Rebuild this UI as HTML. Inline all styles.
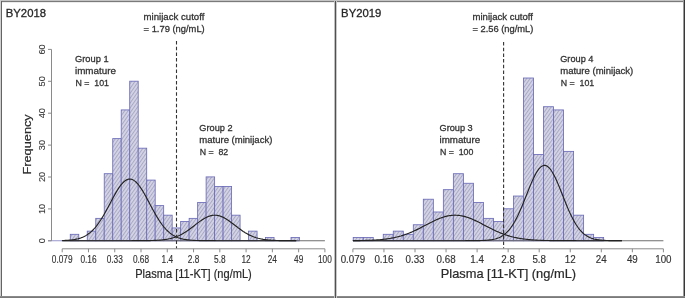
<!DOCTYPE html><html><head><meta charset="utf-8"><style>html,body{margin:0;padding:0;background:#fff}svg{display:block;font-family:"Liberation Sans",sans-serif;filter:blur(0.3px)}</style></head><body><svg width="685" height="298" viewBox="0 0 685 298">
<defs><pattern id="h" patternUnits="userSpaceOnUse" width="2.8" height="2.8" patternTransform="rotate(35)"><rect width="2.8" height="2.8" fill="#d4d4e4"/><rect x="0" y="0" width="1.0" height="2.8" fill="#a8a8c8"/></pattern></defs>
<rect width="685" height="298" fill="#fff"/>
<rect x="70.28" y="234.32" width="8.49" height="6.38" fill="url(#h)" stroke="#6c6cb8" stroke-width="0.85"/>
<rect x="87.26" y="231.13" width="8.49" height="9.57" fill="url(#h)" stroke="#6c6cb8" stroke-width="0.85"/>
<rect x="95.75" y="218.37" width="8.49" height="22.33" fill="url(#h)" stroke="#6c6cb8" stroke-width="0.85"/>
<rect x="104.24" y="173.71" width="8.49" height="66.99" fill="url(#h)" stroke="#6c6cb8" stroke-width="0.85"/>
<rect x="112.73" y="138.62" width="8.49" height="102.08" fill="url(#h)" stroke="#6c6cb8" stroke-width="0.85"/>
<rect x="121.22" y="109.91" width="8.49" height="130.79" fill="url(#h)" stroke="#6c6cb8" stroke-width="0.85"/>
<rect x="129.71" y="81.20" width="8.49" height="159.50" fill="url(#h)" stroke="#6c6cb8" stroke-width="0.85"/>
<rect x="138.20" y="148.19" width="8.49" height="92.51" fill="url(#h)" stroke="#6c6cb8" stroke-width="0.85"/>
<rect x="146.69" y="180.09" width="8.49" height="60.61" fill="url(#h)" stroke="#6c6cb8" stroke-width="0.85"/>
<rect x="155.18" y="205.61" width="8.49" height="35.09" fill="url(#h)" stroke="#6c6cb8" stroke-width="0.85"/>
<rect x="163.67" y="215.18" width="8.49" height="25.52" fill="url(#h)" stroke="#6c6cb8" stroke-width="0.85"/>
<rect x="172.16" y="227.94" width="8.49" height="12.76" fill="url(#h)" stroke="#6c6cb8" stroke-width="0.85"/>
<rect x="180.65" y="221.56" width="8.49" height="19.14" fill="url(#h)" stroke="#6c6cb8" stroke-width="0.85"/>
<rect x="189.14" y="218.37" width="8.49" height="22.33" fill="url(#h)" stroke="#6c6cb8" stroke-width="0.85"/>
<rect x="197.63" y="202.42" width="8.49" height="38.28" fill="url(#h)" stroke="#6c6cb8" stroke-width="0.85"/>
<rect x="206.12" y="176.90" width="8.49" height="63.80" fill="url(#h)" stroke="#6c6cb8" stroke-width="0.85"/>
<rect x="214.61" y="186.47" width="8.49" height="54.23" fill="url(#h)" stroke="#6c6cb8" stroke-width="0.85"/>
<rect x="223.10" y="186.47" width="8.49" height="54.23" fill="url(#h)" stroke="#6c6cb8" stroke-width="0.85"/>
<rect x="231.59" y="215.18" width="8.49" height="25.52" fill="url(#h)" stroke="#6c6cb8" stroke-width="0.85"/>
<rect x="248.57" y="231.13" width="8.49" height="9.57" fill="url(#h)" stroke="#6c6cb8" stroke-width="0.85"/>
<rect x="265.55" y="237.51" width="8.49" height="3.19" fill="url(#h)" stroke="#6c6cb8" stroke-width="0.85"/>
<rect x="291.02" y="237.51" width="8.49" height="3.19" fill="url(#h)" stroke="#6c6cb8" stroke-width="0.85"/>
<line x1="61.79" y1="240.7" x2="299.51" y2="240.7" stroke="#6c6cb8" stroke-width="0.9"/>
<line x1="62.2" y1="240.7" x2="324.9" y2="240.7" stroke="#6e6e6e" stroke-width="1.1"/>
<polyline points="62.2,240.53 63.2,240.50 64.2,240.46 65.2,240.42 66.2,240.36 67.2,240.30 68.2,240.24 69.2,240.16 70.2,240.07 71.2,239.96 72.2,239.84 73.2,239.71 74.2,239.55 75.2,239.38 76.2,239.18 77.2,238.96 78.2,238.71 79.2,238.42 80.2,238.11 81.2,237.76 82.2,237.37 83.2,236.95 84.2,236.47 85.2,235.95 86.2,235.38 87.2,234.75 88.2,234.07 89.2,233.33 90.2,232.53 91.2,231.67 92.2,230.73 93.2,229.73 94.2,228.66 95.2,227.53 96.2,226.32 97.2,225.03 98.2,223.68 99.2,222.26 100.2,220.78 101.2,219.23 102.2,217.61 103.2,215.94 104.2,214.22 105.2,212.45 106.2,210.64 107.2,208.80 108.2,206.93 109.2,205.04 110.2,203.15 111.2,201.25 112.2,199.37 113.2,197.51 114.2,195.68 115.2,193.89 116.2,192.16 117.2,190.49 118.2,188.90 119.2,187.40 120.2,186.00 121.2,184.70 122.2,183.52 123.2,182.46 124.2,181.54 125.2,180.76 126.2,180.12 127.2,179.63 128.2,179.30 129.2,179.13 130.2,179.11 131.2,179.26 132.2,179.56 133.2,180.01 134.2,180.62 135.2,181.37 136.2,182.27 137.2,183.30 138.2,184.45 139.2,185.73 140.2,187.11 141.2,188.60 142.2,190.17 143.2,191.82 144.2,193.54 145.2,195.32 146.2,197.14 147.2,199.00 148.2,200.88 149.2,202.77 150.2,204.66 151.2,206.55 152.2,208.43 153.2,210.28 154.2,212.09 155.2,213.87 156.2,215.60 157.2,217.28 158.2,218.91 159.2,220.47 160.2,221.97 161.2,223.41 162.2,224.77 163.2,226.06 164.2,227.29 165.2,228.44 166.2,229.53 167.2,230.54 168.2,231.48 169.2,232.36 170.2,233.18 171.2,233.93 172.2,234.62 173.2,235.26 174.2,235.84 175.2,236.37 176.2,236.85 177.2,237.29 178.2,237.69 179.2,238.04 180.2,238.36 181.2,238.65 182.2,238.91 183.2,239.14 184.2,239.34 185.2,239.52 186.2,239.68 187.2,239.82 188.2,239.94 189.2,240.05 190.2,240.14 191.2,240.22 192.2,240.29 193.2,240.35 194.2,240.41 195.2,240.45 196.2,240.49 197.2,240.52 198.2,240.55 199.2,240.58 200.2,240.60 201.2,240.61 202.2,240.63 203.2,240.64 204.2,240.65 205.2,240.66 206.2,240.67 207.2,240.67 208.2,240.68 209.2,240.68 210.2,240.69 211.2,240.69 212.2,240.69 213.2,240.69 214.2,240.69 215.2,240.69 216.2,240.70 217.2,240.70 218.2,240.70 219.2,240.70 220.2,240.70 221.2,240.70 222.2,240.70 223.2,240.70 224.2,240.70 225.2,240.70 226.2,240.70 227.2,240.70 228.2,240.70 229.2,240.70 230.2,240.70 231.2,240.70 232.2,240.70 233.2,240.70 234.2,240.70 235.2,240.70 236.2,240.70 237.2,240.70 238.2,240.70 239.2,240.70 240.2,240.70 241.2,240.70 242.2,240.70 243.2,240.70 244.2,240.70 245.2,240.70 246.2,240.70 247.2,240.70 248.2,240.70 249.2,240.70 250.2,240.70 251.2,240.70 252.2,240.70 253.2,240.70 254.2,240.70 255.2,240.70 256.2,240.70 257.2,240.70 258.2,240.70 259.2,240.70 260.2,240.70 261.2,240.70 262.2,240.70 263.2,240.70 264.2,240.70 265.2,240.70 266.2,240.70 267.2,240.70 268.2,240.70 269.2,240.70 270.2,240.70 271.2,240.70 272.2,240.70 273.2,240.70 274.2,240.70 275.2,240.70 276.2,240.70 277.2,240.70 278.2,240.70 279.2,240.70 280.2,240.70 281.2,240.70 282.2,240.70 283.2,240.70 284.2,240.70 285.2,240.70 286.2,240.70 287.2,240.70 288.2,240.70 289.2,240.70 290.2,240.70 291.2,240.70 292.2,240.70 293.2,240.70 294.2,240.70 295.2,240.70 296.2,240.70" fill="none" stroke="#222" stroke-width="1.15"/>
<polyline points="62.2,240.70 63.2,240.70 64.2,240.70 65.2,240.70 66.2,240.70 67.2,240.70 68.2,240.70 69.2,240.70 70.2,240.70 71.2,240.70 72.2,240.70 73.2,240.70 74.2,240.70 75.2,240.70 76.2,240.70 77.2,240.70 78.2,240.70 79.2,240.70 80.2,240.70 81.2,240.70 82.2,240.70 83.2,240.70 84.2,240.70 85.2,240.70 86.2,240.70 87.2,240.70 88.2,240.70 89.2,240.70 90.2,240.70 91.2,240.70 92.2,240.70 93.2,240.70 94.2,240.70 95.2,240.70 96.2,240.70 97.2,240.70 98.2,240.70 99.2,240.70 100.2,240.70 101.2,240.70 102.2,240.70 103.2,240.70 104.2,240.70 105.2,240.70 106.2,240.70 107.2,240.70 108.2,240.70 109.2,240.70 110.2,240.70 111.2,240.70 112.2,240.70 113.2,240.70 114.2,240.70 115.2,240.70 116.2,240.70 117.2,240.70 118.2,240.70 119.2,240.70 120.2,240.70 121.2,240.70 122.2,240.70 123.2,240.70 124.2,240.70 125.2,240.70 126.2,240.70 127.2,240.70 128.2,240.70 129.2,240.70 130.2,240.70 131.2,240.70 132.2,240.69 133.2,240.69 134.2,240.69 135.2,240.69 136.2,240.69 137.2,240.69 138.2,240.68 139.2,240.68 140.2,240.68 141.2,240.67 142.2,240.66 143.2,240.66 144.2,240.65 145.2,240.64 146.2,240.63 147.2,240.62 148.2,240.60 149.2,240.58 150.2,240.56 151.2,240.54 152.2,240.51 153.2,240.48 154.2,240.44 155.2,240.40 156.2,240.35 157.2,240.30 158.2,240.24 159.2,240.17 160.2,240.09 161.2,240.00 162.2,239.90 163.2,239.79 164.2,239.66 165.2,239.52 166.2,239.37 167.2,239.20 168.2,239.01 169.2,238.80 170.2,238.58 171.2,238.33 172.2,238.06 173.2,237.77 174.2,237.45 175.2,237.11 176.2,236.74 177.2,236.34 178.2,235.92 179.2,235.47 180.2,234.99 181.2,234.48 182.2,233.95 183.2,233.38 184.2,232.79 185.2,232.17 186.2,231.53 187.2,230.86 188.2,230.17 189.2,229.46 190.2,228.73 191.2,227.99 192.2,227.23 193.2,226.47 194.2,225.70 195.2,224.92 196.2,224.15 197.2,223.39 198.2,222.63 199.2,221.89 200.2,221.16 201.2,220.46 202.2,219.79 203.2,219.15 204.2,218.54 205.2,217.97 206.2,217.45 207.2,216.98 208.2,216.55 209.2,216.18 210.2,215.87 211.2,215.61 212.2,215.41 213.2,215.28 214.2,215.21 215.2,215.21 216.2,215.26 217.2,215.38 218.2,215.57 219.2,215.81 220.2,216.11 221.2,216.47 222.2,216.89 223.2,217.35 224.2,217.87 225.2,218.42 226.2,219.02 227.2,219.66 228.2,220.33 229.2,221.02 230.2,221.74 231.2,222.48 232.2,223.23 233.2,224.00 234.2,224.77 235.2,225.54 236.2,226.31 237.2,227.08 238.2,227.84 239.2,228.58 240.2,229.32 241.2,230.03 242.2,230.72 243.2,231.40 244.2,232.04 245.2,232.67 246.2,233.26 247.2,233.83 248.2,234.38 249.2,234.89 250.2,235.38 251.2,235.83 252.2,236.26 253.2,236.66 254.2,237.04 255.2,237.38 256.2,237.71 257.2,238.00 258.2,238.28 259.2,238.53 260.2,238.76 261.2,238.97 262.2,239.16 263.2,239.34 264.2,239.49 265.2,239.63 266.2,239.76 267.2,239.88 268.2,239.98 269.2,240.07 270.2,240.15 271.2,240.22 272.2,240.29 273.2,240.34 274.2,240.39 275.2,240.43 276.2,240.47 277.2,240.50 278.2,240.53 279.2,240.56 280.2,240.58 281.2,240.60 282.2,240.61 283.2,240.63 284.2,240.64 285.2,240.65 286.2,240.66 287.2,240.66 288.2,240.67 289.2,240.67 290.2,240.68 291.2,240.68 292.2,240.69 293.2,240.69 294.2,240.69 295.2,240.69 296.2,240.69" fill="none" stroke="#222" stroke-width="1.15"/>
<line x1="176.5" y1="41" x2="176.5" y2="248.6" stroke="#333" stroke-width="1.1" stroke-dasharray="3.5 2.2"/>
<line x1="62.2" y1="248.8" x2="324.9" y2="248.8" stroke="#8a8a8a" stroke-width="1"/>
<line x1="62.20" y1="248.8" x2="62.20" y2="252.3" stroke="#8a8a8a" stroke-width="1"/>
<line x1="88.47" y1="248.8" x2="88.47" y2="252.3" stroke="#8a8a8a" stroke-width="1"/>
<line x1="114.74" y1="248.8" x2="114.74" y2="252.3" stroke="#8a8a8a" stroke-width="1"/>
<line x1="141.01" y1="248.8" x2="141.01" y2="252.3" stroke="#8a8a8a" stroke-width="1"/>
<line x1="167.28" y1="248.8" x2="167.28" y2="252.3" stroke="#8a8a8a" stroke-width="1"/>
<line x1="193.55" y1="248.8" x2="193.55" y2="252.3" stroke="#8a8a8a" stroke-width="1"/>
<line x1="219.82" y1="248.8" x2="219.82" y2="252.3" stroke="#8a8a8a" stroke-width="1"/>
<line x1="246.09" y1="248.8" x2="246.09" y2="252.3" stroke="#8a8a8a" stroke-width="1"/>
<line x1="272.36" y1="248.8" x2="272.36" y2="252.3" stroke="#8a8a8a" stroke-width="1"/>
<line x1="298.63" y1="248.8" x2="298.63" y2="252.3" stroke="#8a8a8a" stroke-width="1"/>
<line x1="324.90" y1="248.8" x2="324.90" y2="252.3" stroke="#8a8a8a" stroke-width="1"/>
<rect x="353.21" y="237.51" width="10.02" height="3.19" fill="url(#h)" stroke="#6c6cb8" stroke-width="0.85"/>
<rect x="363.23" y="237.51" width="10.02" height="3.19" fill="url(#h)" stroke="#6c6cb8" stroke-width="0.85"/>
<rect x="383.26" y="234.32" width="10.02" height="6.38" fill="url(#h)" stroke="#6c6cb8" stroke-width="0.85"/>
<rect x="393.28" y="231.13" width="10.02" height="9.57" fill="url(#h)" stroke="#6c6cb8" stroke-width="0.85"/>
<rect x="403.29" y="234.32" width="10.02" height="6.38" fill="url(#h)" stroke="#6c6cb8" stroke-width="0.85"/>
<rect x="413.31" y="224.75" width="10.02" height="15.95" fill="url(#h)" stroke="#6c6cb8" stroke-width="0.85"/>
<rect x="423.33" y="199.23" width="10.02" height="41.47" fill="url(#h)" stroke="#6c6cb8" stroke-width="0.85"/>
<rect x="433.35" y="211.99" width="10.02" height="28.71" fill="url(#h)" stroke="#6c6cb8" stroke-width="0.85"/>
<rect x="443.36" y="189.66" width="10.02" height="51.04" fill="url(#h)" stroke="#6c6cb8" stroke-width="0.85"/>
<rect x="453.38" y="173.71" width="10.02" height="66.99" fill="url(#h)" stroke="#6c6cb8" stroke-width="0.85"/>
<rect x="463.40" y="183.28" width="10.02" height="57.42" fill="url(#h)" stroke="#6c6cb8" stroke-width="0.85"/>
<rect x="473.41" y="202.42" width="10.02" height="38.28" fill="url(#h)" stroke="#6c6cb8" stroke-width="0.85"/>
<rect x="483.43" y="218.37" width="10.02" height="22.33" fill="url(#h)" stroke="#6c6cb8" stroke-width="0.85"/>
<rect x="493.45" y="221.56" width="10.02" height="19.14" fill="url(#h)" stroke="#6c6cb8" stroke-width="0.85"/>
<rect x="503.46" y="208.80" width="10.02" height="31.90" fill="url(#h)" stroke="#6c6cb8" stroke-width="0.85"/>
<rect x="513.48" y="196.04" width="10.02" height="44.66" fill="url(#h)" stroke="#6c6cb8" stroke-width="0.85"/>
<rect x="523.50" y="78.01" width="10.02" height="162.69" fill="url(#h)" stroke="#6c6cb8" stroke-width="0.85"/>
<rect x="533.52" y="154.57" width="10.02" height="86.13" fill="url(#h)" stroke="#6c6cb8" stroke-width="0.85"/>
<rect x="543.53" y="106.72" width="10.02" height="133.98" fill="url(#h)" stroke="#6c6cb8" stroke-width="0.85"/>
<rect x="553.55" y="109.91" width="10.02" height="130.79" fill="url(#h)" stroke="#6c6cb8" stroke-width="0.85"/>
<rect x="563.57" y="151.38" width="10.02" height="89.32" fill="url(#h)" stroke="#6c6cb8" stroke-width="0.85"/>
<rect x="573.58" y="215.18" width="10.02" height="25.52" fill="url(#h)" stroke="#6c6cb8" stroke-width="0.85"/>
<rect x="583.60" y="234.32" width="10.02" height="6.38" fill="url(#h)" stroke="#6c6cb8" stroke-width="0.85"/>
<rect x="593.62" y="237.51" width="10.02" height="3.19" fill="url(#h)" stroke="#6c6cb8" stroke-width="0.85"/>
<line x1="353.21" y1="240.7" x2="603.63" y2="240.7" stroke="#6c6cb8" stroke-width="0.9"/>
<line x1="352.9" y1="240.7" x2="663.4" y2="240.7" stroke="#6e6e6e" stroke-width="1.1"/>
<polyline points="352.9,240.64 353.9,240.63 354.9,240.62 355.9,240.61 356.9,240.60 357.9,240.59 358.9,240.57 359.9,240.56 360.9,240.54 361.9,240.52 362.9,240.51 363.9,240.48 364.9,240.46 365.9,240.43 366.9,240.40 367.9,240.37 368.9,240.34 369.9,240.30 370.9,240.26 371.9,240.22 372.9,240.17 373.9,240.12 374.9,240.06 375.9,240.00 376.9,239.93 377.9,239.86 378.9,239.78 379.9,239.70 380.9,239.61 381.9,239.52 382.9,239.41 383.9,239.30 384.9,239.19 385.9,239.06 386.9,238.92 387.9,238.78 388.9,238.63 389.9,238.47 390.9,238.29 391.9,238.11 392.9,237.92 393.9,237.71 394.9,237.50 395.9,237.27 396.9,237.03 397.9,236.78 398.9,236.52 399.9,236.24 400.9,235.96 401.9,235.65 402.9,235.34 403.9,235.01 404.9,234.67 405.9,234.32 406.9,233.95 407.9,233.57 408.9,233.18 409.9,232.77 410.9,232.36 411.9,231.93 412.9,231.49 413.9,231.04 414.9,230.58 415.9,230.11 416.9,229.63 417.9,229.14 418.9,228.64 419.9,228.14 420.9,227.63 421.9,227.11 422.9,226.59 423.9,226.07 424.9,225.55 425.9,225.02 426.9,224.50 427.9,223.98 428.9,223.46 429.9,222.94 430.9,222.44 431.9,221.93 432.9,221.44 433.9,220.96 434.9,220.48 435.9,220.02 436.9,219.58 437.9,219.14 438.9,218.73 439.9,218.33 440.9,217.95 441.9,217.59 442.9,217.26 443.9,216.94 444.9,216.65 445.9,216.38 446.9,216.14 447.9,215.93 448.9,215.74 449.9,215.58 450.9,215.45 451.9,215.34 452.9,215.26 453.9,215.22 454.9,215.20 455.9,215.21 456.9,215.25 457.9,215.32 458.9,215.42 459.9,215.55 460.9,215.70 461.9,215.89 462.9,216.10 463.9,216.33 464.9,216.60 465.9,216.88 466.9,217.19 467.9,217.53 468.9,217.88 469.9,218.25 470.9,218.65 471.9,219.06 472.9,219.49 473.9,219.93 474.9,220.39 475.9,220.86 476.9,221.34 477.9,221.83 478.9,222.33 479.9,222.84 480.9,223.36 481.9,223.87 482.9,224.40 483.9,224.92 484.9,225.44 485.9,225.97 486.9,226.49 487.9,227.01 488.9,227.52 489.9,228.03 490.9,228.54 491.9,229.04 492.9,229.53 493.9,230.01 494.9,230.48 495.9,230.95 496.9,231.40 497.9,231.84 498.9,232.27 499.9,232.69 500.9,233.10 501.9,233.49 502.9,233.88 503.9,234.25 504.9,234.60 505.9,234.94 506.9,235.27 507.9,235.59 508.9,235.90 509.9,236.19 510.9,236.47 511.9,236.73 512.9,236.98 513.9,237.23 514.9,237.45 515.9,237.67 516.9,237.88 517.9,238.07 518.9,238.26 519.9,238.43 520.9,238.60 521.9,238.75 522.9,238.90 523.9,239.03 524.9,239.16 525.9,239.28 526.9,239.39 527.9,239.50 528.9,239.59 529.9,239.68 530.9,239.77 531.9,239.85 532.9,239.92 533.9,239.99 534.9,240.05 535.9,240.11 536.9,240.16 537.9,240.21 538.9,240.25 539.9,240.29 540.9,240.33 541.9,240.37 542.9,240.40 543.9,240.43 544.9,240.45 545.9,240.48 546.9,240.50 547.9,240.52 548.9,240.54 549.9,240.56 550.9,240.57 551.9,240.58 552.9,240.60 553.9,240.61 554.9,240.62 555.9,240.63 556.9,240.63 557.9,240.64 558.9,240.65 559.9,240.65 560.9,240.66 561.9,240.66 562.9,240.67 563.9,240.67 564.9,240.68 565.9,240.68 566.9,240.68 567.9,240.68 568.9,240.69 569.9,240.69 570.9,240.69 571.9,240.69 572.9,240.69 573.9,240.69 574.9,240.69 575.9,240.69 576.9,240.70 577.9,240.70 578.9,240.70 579.9,240.70 580.9,240.70 581.9,240.70 582.9,240.70 583.9,240.70 584.9,240.70 585.9,240.70 586.9,240.70 587.9,240.70 588.9,240.70 589.9,240.70 590.9,240.70 591.9,240.70 592.9,240.70 593.9,240.70 594.9,240.70 595.9,240.70 596.9,240.70 597.9,240.70 598.9,240.70 599.9,240.70 600.9,240.70 601.9,240.70 602.9,240.70 603.9,240.70 604.9,240.70 605.9,240.70 606.9,240.70 607.9,240.70 608.9,240.70 609.9,240.70 610.9,240.70 611.9,240.70 612.9,240.70 613.9,240.70 614.9,240.70 615.9,240.70 616.9,240.70 617.9,240.70 618.9,240.70 619.9,240.70 620.9,240.70 621.9,240.70" fill="none" stroke="#222" stroke-width="1.15"/>
<polyline points="352.9,240.70 353.9,240.70 354.9,240.70 355.9,240.70 356.9,240.70 357.9,240.70 358.9,240.70 359.9,240.70 360.9,240.70 361.9,240.70 362.9,240.70 363.9,240.70 364.9,240.70 365.9,240.70 366.9,240.70 367.9,240.70 368.9,240.70 369.9,240.70 370.9,240.70 371.9,240.70 372.9,240.70 373.9,240.70 374.9,240.70 375.9,240.70 376.9,240.70 377.9,240.70 378.9,240.70 379.9,240.70 380.9,240.70 381.9,240.70 382.9,240.70 383.9,240.70 384.9,240.70 385.9,240.70 386.9,240.70 387.9,240.70 388.9,240.70 389.9,240.70 390.9,240.70 391.9,240.70 392.9,240.70 393.9,240.70 394.9,240.70 395.9,240.70 396.9,240.70 397.9,240.70 398.9,240.70 399.9,240.70 400.9,240.70 401.9,240.70 402.9,240.70 403.9,240.70 404.9,240.70 405.9,240.70 406.9,240.70 407.9,240.70 408.9,240.70 409.9,240.70 410.9,240.70 411.9,240.70 412.9,240.70 413.9,240.70 414.9,240.70 415.9,240.70 416.9,240.70 417.9,240.70 418.9,240.70 419.9,240.70 420.9,240.70 421.9,240.70 422.9,240.70 423.9,240.70 424.9,240.70 425.9,240.70 426.9,240.70 427.9,240.70 428.9,240.70 429.9,240.70 430.9,240.70 431.9,240.70 432.9,240.70 433.9,240.70 434.9,240.70 435.9,240.70 436.9,240.70 437.9,240.70 438.9,240.70 439.9,240.70 440.9,240.70 441.9,240.70 442.9,240.70 443.9,240.70 444.9,240.70 445.9,240.70 446.9,240.70 447.9,240.70 448.9,240.70 449.9,240.70 450.9,240.70 451.9,240.70 452.9,240.70 453.9,240.70 454.9,240.70 455.9,240.70 456.9,240.70 457.9,240.70 458.9,240.70 459.9,240.70 460.9,240.70 461.9,240.70 462.9,240.70 463.9,240.70 464.9,240.70 465.9,240.69 466.9,240.69 467.9,240.69 468.9,240.69 469.9,240.69 470.9,240.68 471.9,240.68 472.9,240.67 473.9,240.67 474.9,240.66 475.9,240.65 476.9,240.63 477.9,240.62 478.9,240.60 479.9,240.58 480.9,240.55 481.9,240.52 482.9,240.48 483.9,240.44 484.9,240.39 485.9,240.32 486.9,240.25 487.9,240.16 488.9,240.06 489.9,239.94 490.9,239.81 491.9,239.65 492.9,239.46 493.9,239.25 494.9,239.01 495.9,238.73 496.9,238.42 497.9,238.06 498.9,237.66 499.9,237.20 500.9,236.69 501.9,236.12 502.9,235.49 503.9,234.78 504.9,234.00 505.9,233.15 506.9,232.20 507.9,231.17 508.9,230.05 509.9,228.83 510.9,227.51 511.9,226.09 512.9,224.57 513.9,222.95 514.9,221.22 515.9,219.39 516.9,217.46 517.9,215.43 518.9,213.31 519.9,211.11 520.9,208.82 521.9,206.46 522.9,204.05 523.9,201.58 524.9,199.08 525.9,196.55 526.9,194.01 527.9,191.48 528.9,188.98 529.9,186.51 530.9,184.10 531.9,181.76 532.9,179.52 533.9,177.39 534.9,175.38 535.9,173.52 536.9,171.82 537.9,170.30 538.9,168.96 539.9,167.82 540.9,166.89 541.9,166.18 542.9,165.70 543.9,165.44 544.9,165.42 545.9,165.63 546.9,166.07 547.9,166.73 548.9,167.62 549.9,168.71 550.9,170.01 551.9,171.50 552.9,173.17 553.9,175.00 554.9,176.98 555.9,179.08 556.9,181.31 557.9,183.62 558.9,186.02 559.9,188.48 560.9,190.98 561.9,193.51 562.9,196.04 563.9,198.57 564.9,201.08 565.9,203.56 566.9,205.99 567.9,208.35 568.9,210.65 569.9,212.88 570.9,215.01 571.9,217.06 572.9,219.01 573.9,220.86 574.9,222.61 575.9,224.26 576.9,225.80 577.9,227.24 578.9,228.57 579.9,229.81 580.9,230.95 581.9,232.00 582.9,232.96 583.9,233.84 584.9,234.63 585.9,235.35 586.9,236.00 587.9,236.58 588.9,237.11 589.9,237.57 590.9,237.98 591.9,238.35 592.9,238.67 593.9,238.96 594.9,239.21 595.9,239.42 596.9,239.61 597.9,239.78 598.9,239.92 599.9,240.04 600.9,240.14 601.9,240.23 602.9,240.31 603.9,240.37 604.9,240.43 605.9,240.48 606.9,240.52 607.9,240.55 608.9,240.57 609.9,240.60 610.9,240.62 611.9,240.63 612.9,240.64 613.9,240.66 614.9,240.66 615.9,240.67 616.9,240.68 617.9,240.68 618.9,240.69 619.9,240.69 620.9,240.69 621.9,240.69" fill="none" stroke="#222" stroke-width="1.15"/>
<line x1="503.6" y1="42" x2="503.6" y2="248.6" stroke="#333" stroke-width="1.1" stroke-dasharray="3.5 2.2"/>
<line x1="352.9" y1="248.8" x2="663.4" y2="248.8" stroke="#8a8a8a" stroke-width="1"/>
<line x1="352.90" y1="248.8" x2="352.90" y2="252.3" stroke="#8a8a8a" stroke-width="1"/>
<line x1="383.95" y1="248.8" x2="383.95" y2="252.3" stroke="#8a8a8a" stroke-width="1"/>
<line x1="415.00" y1="248.8" x2="415.00" y2="252.3" stroke="#8a8a8a" stroke-width="1"/>
<line x1="446.05" y1="248.8" x2="446.05" y2="252.3" stroke="#8a8a8a" stroke-width="1"/>
<line x1="477.10" y1="248.8" x2="477.10" y2="252.3" stroke="#8a8a8a" stroke-width="1"/>
<line x1="508.15" y1="248.8" x2="508.15" y2="252.3" stroke="#8a8a8a" stroke-width="1"/>
<line x1="539.20" y1="248.8" x2="539.20" y2="252.3" stroke="#8a8a8a" stroke-width="1"/>
<line x1="570.25" y1="248.8" x2="570.25" y2="252.3" stroke="#8a8a8a" stroke-width="1"/>
<line x1="601.30" y1="248.8" x2="601.30" y2="252.3" stroke="#8a8a8a" stroke-width="1"/>
<line x1="632.35" y1="248.8" x2="632.35" y2="252.3" stroke="#8a8a8a" stroke-width="1"/>
<line x1="663.40" y1="248.8" x2="663.40" y2="252.3" stroke="#8a8a8a" stroke-width="1"/>
<line x1="48" y1="240.7" x2="62" y2="240.7" stroke="#6c6cb8" stroke-width="1.2" opacity="0.6"/>
<line x1="51.5" y1="49.4" x2="51.5" y2="240.8" stroke="#8a8a8a" stroke-width="1"/>
<line x1="48" y1="240.80" x2="51.5" y2="240.80" stroke="#8a8a8a" stroke-width="1"/>
<text transform="translate(44.6,240.80) rotate(-90)" text-anchor="middle" font-size="9.2" fill="#3a3a3a" stroke="#3a3a3a" stroke-width="0.12">0</text>
<line x1="48" y1="208.90" x2="51.5" y2="208.90" stroke="#8a8a8a" stroke-width="1"/>
<text transform="translate(44.6,208.90) rotate(-90)" text-anchor="middle" font-size="9.2" fill="#3a3a3a" stroke="#3a3a3a" stroke-width="0.12">10</text>
<line x1="48" y1="177.00" x2="51.5" y2="177.00" stroke="#8a8a8a" stroke-width="1"/>
<text transform="translate(44.6,177.00) rotate(-90)" text-anchor="middle" font-size="9.2" fill="#3a3a3a" stroke="#3a3a3a" stroke-width="0.12">20</text>
<line x1="48" y1="145.10" x2="51.5" y2="145.10" stroke="#8a8a8a" stroke-width="1"/>
<text transform="translate(44.6,145.10) rotate(-90)" text-anchor="middle" font-size="9.2" fill="#3a3a3a" stroke="#3a3a3a" stroke-width="0.12">30</text>
<line x1="48" y1="113.20" x2="51.5" y2="113.20" stroke="#8a8a8a" stroke-width="1"/>
<text transform="translate(44.6,113.20) rotate(-90)" text-anchor="middle" font-size="9.2" fill="#3a3a3a" stroke="#3a3a3a" stroke-width="0.12">40</text>
<line x1="48" y1="81.30" x2="51.5" y2="81.30" stroke="#8a8a8a" stroke-width="1"/>
<text transform="translate(44.6,81.30) rotate(-90)" text-anchor="middle" font-size="9.2" fill="#3a3a3a" stroke="#3a3a3a" stroke-width="0.12">50</text>
<line x1="48" y1="49.40" x2="51.5" y2="49.40" stroke="#8a8a8a" stroke-width="1"/>
<text transform="translate(44.6,49.40) rotate(-90)" text-anchor="middle" font-size="9.2" fill="#3a3a3a" stroke="#3a3a3a" stroke-width="0.12">60</text>
<text transform="translate(62.20,262.6) scale(0.83,1)" text-anchor="middle" font-size="10" fill="#333" stroke="#333" stroke-width="0.15">0.079</text>
<text transform="translate(88.47,262.6) scale(0.83,1)" text-anchor="middle" font-size="10" fill="#333" stroke="#333" stroke-width="0.15">0.16</text>
<text transform="translate(114.74,262.6) scale(0.83,1)" text-anchor="middle" font-size="10" fill="#333" stroke="#333" stroke-width="0.15">0.33</text>
<text transform="translate(141.01,262.6) scale(0.83,1)" text-anchor="middle" font-size="10" fill="#333" stroke="#333" stroke-width="0.15">0.68</text>
<text transform="translate(167.28,262.6) scale(0.83,1)" text-anchor="middle" font-size="10" fill="#333" stroke="#333" stroke-width="0.15">1.4</text>
<text transform="translate(193.55,262.6) scale(0.83,1)" text-anchor="middle" font-size="10" fill="#333" stroke="#333" stroke-width="0.15">2.8</text>
<text transform="translate(219.82,262.6) scale(0.83,1)" text-anchor="middle" font-size="10" fill="#333" stroke="#333" stroke-width="0.15">5.8</text>
<text transform="translate(246.09,262.6) scale(0.83,1)" text-anchor="middle" font-size="10" fill="#333" stroke="#333" stroke-width="0.15">12</text>
<text transform="translate(272.36,262.6) scale(0.83,1)" text-anchor="middle" font-size="10" fill="#333" stroke="#333" stroke-width="0.15">24</text>
<text transform="translate(298.63,262.6) scale(0.83,1)" text-anchor="middle" font-size="10" fill="#333" stroke="#333" stroke-width="0.15">49</text>
<text transform="translate(324.90,262.6) scale(0.83,1)" text-anchor="middle" font-size="10" fill="#333" stroke="#333" stroke-width="0.15">100</text>
<text transform="translate(352.90,262.6) scale(0.98,1)" text-anchor="middle" font-size="10" fill="#333" stroke="#333" stroke-width="0.15">0.079</text>
<text transform="translate(383.95,262.6) scale(0.98,1)" text-anchor="middle" font-size="10" fill="#333" stroke="#333" stroke-width="0.15">0.16</text>
<text transform="translate(415.00,262.6) scale(0.98,1)" text-anchor="middle" font-size="10" fill="#333" stroke="#333" stroke-width="0.15">0.33</text>
<text transform="translate(446.05,262.6) scale(0.98,1)" text-anchor="middle" font-size="10" fill="#333" stroke="#333" stroke-width="0.15">0.68</text>
<text transform="translate(477.10,262.6) scale(0.98,1)" text-anchor="middle" font-size="10" fill="#333" stroke="#333" stroke-width="0.15">1.4</text>
<text transform="translate(508.15,262.6) scale(0.98,1)" text-anchor="middle" font-size="10" fill="#333" stroke="#333" stroke-width="0.15">2.8</text>
<text transform="translate(539.20,262.6) scale(0.98,1)" text-anchor="middle" font-size="10" fill="#333" stroke="#333" stroke-width="0.15">5.8</text>
<text transform="translate(570.25,262.6) scale(0.98,1)" text-anchor="middle" font-size="10" fill="#333" stroke="#333" stroke-width="0.15">12</text>
<text transform="translate(601.30,262.6) scale(0.98,1)" text-anchor="middle" font-size="10" fill="#333" stroke="#333" stroke-width="0.15">24</text>
<text transform="translate(632.35,262.6) scale(0.98,1)" text-anchor="middle" font-size="10" fill="#333" stroke="#333" stroke-width="0.15">49</text>
<text transform="translate(663.40,262.6) scale(0.98,1)" text-anchor="middle" font-size="10" fill="#333" stroke="#333" stroke-width="0.15">100</text>
<text transform="translate(193.5,278.2) scale(0.93,1)" text-anchor="middle" font-size="11.9" fill="#2a2a2a" stroke="#2a2a2a" stroke-width="0.2">Plasma [11-KT] (ng/mL)</text>
<text transform="translate(508.4,278.2) scale(1.08,1)" text-anchor="middle" font-size="11.9" fill="#2a2a2a" stroke="#2a2a2a" stroke-width="0.2">Plasma [11-KT] (ng/mL)</text>
<text transform="translate(30.9,144.4) rotate(-90) scale(1.24,1)" text-anchor="middle" font-size="10.3" fill="#2a2a2a" stroke="#2a2a2a" stroke-width="0.2">Frequency</text>
<text id="by18" transform="translate(5.80,16.6) scale(0.9756,1)" font-size="11.6" fill="#262626" stroke="#262626" stroke-width="0.3">BY2018</text>
<text id="by19" transform="translate(341.10,16.6) scale(0.9756,1)" font-size="11.6" fill="#262626" stroke="#262626" stroke-width="0.3">BY2019</text>
<text id="mcL" transform="translate(143.60,20.0) scale(0.9825,1)" font-size="9.8" fill="#333" stroke="#333" stroke-width="0.3">minijack cutoff</text>
<text id="eqL" transform="translate(143.60,31.7) scale(0.9562,1)" font-size="9.8" fill="#333" stroke="#333" stroke-width="0.3">= 1.79 (ng/mL)</text>
<text id="mcR" transform="translate(472.50,20.0) scale(0.9778,1)" font-size="9.8" fill="#333" stroke="#333" stroke-width="0.3">minijack cutoff</text>
<text id="eqR" transform="translate(472.50,31.7) scale(0.9516,1)" font-size="9.8" fill="#333" stroke="#333" stroke-width="0.3">= 2.56 (ng/mL)</text>
<text id="G1" transform="translate(75.00,61.6) scale(0.9486,1)" font-size="9.8" fill="#333" stroke="#333" stroke-width="0.3">Group 1</text>
<text id="im1" transform="translate(75.00,74.0) scale(1.0024,1)" font-size="9.8" fill="#333" stroke="#333" stroke-width="0.3">immature</text>
<text id="N1" transform="translate(75.40,86.1) scale(0.9000,1)" font-size="9.8" fill="#333" stroke="#333" stroke-width="0.3">N = &#160;101</text>
<text id="G2" transform="translate(199.30,130.6) scale(0.9389,1)" font-size="9.8" fill="#333" stroke="#333" stroke-width="0.3">Group 2</text>
<text id="mm2" transform="translate(199.30,142.6) scale(0.9733,1)" font-size="9.8" fill="#333" stroke="#333" stroke-width="0.3">mature (minijack)</text>
<text id="N2" transform="translate(199.70,154.8) scale(0.8969,1)" font-size="9.8" fill="#333" stroke="#333" stroke-width="0.3">N = &#160;82</text>
<text id="G3" transform="translate(439.50,130.6) scale(0.9389,1)" font-size="9.8" fill="#333" stroke="#333" stroke-width="0.3">Group 3</text>
<text id="im3" transform="translate(439.50,142.6) scale(0.9951,1)" font-size="9.8" fill="#333" stroke="#333" stroke-width="0.3">immature</text>
<text id="N3" transform="translate(439.90,154.8) scale(0.8974,1)" font-size="9.8" fill="#333" stroke="#333" stroke-width="0.3">N = &#160;100</text>
<text id="G4" transform="translate(560.20,61.6) scale(0.9389,1)" font-size="9.8" fill="#333" stroke="#333" stroke-width="0.3">Group 4</text>
<text id="mm4" transform="translate(560.20,74.0) scale(0.9733,1)" font-size="9.8" fill="#333" stroke="#333" stroke-width="0.3">mature (minijack)</text>
<text id="N4" transform="translate(560.70,86.1) scale(0.9000,1)" font-size="9.8" fill="#333" stroke="#333" stroke-width="0.3">N = &#160;101</text>
<rect x="0" y="0" width="685" height="1" fill="#c4c4c4"/>
<rect x="0" y="1" width="685" height="1" fill="#7a7a7a"/>
<rect x="0" y="2" width="685" height="1" fill="#ececec"/>
<rect x="0" y="0" width="1" height="298" fill="#d0d0d0"/>
<rect x="1" y="1" width="1" height="297" fill="#646464"/>
<rect x="683" y="0" width="1" height="298" fill="#9a9a9a"/>
<rect x="684" y="0" width="1" height="298" fill="#383838"/>
<rect x="0" y="296" width="685" height="1" fill="#8a8a8a"/>
<rect x="0" y="297" width="685" height="1" fill="#7a7a7a"/>
<rect x="334" y="1" width="1" height="297" fill="#c0c0c0"/>
<rect x="335" y="1" width="1" height="297" fill="#505050"/>
<rect x="336" y="1" width="1" height="297" fill="#c8c8c8"/>
</svg></body></html>
